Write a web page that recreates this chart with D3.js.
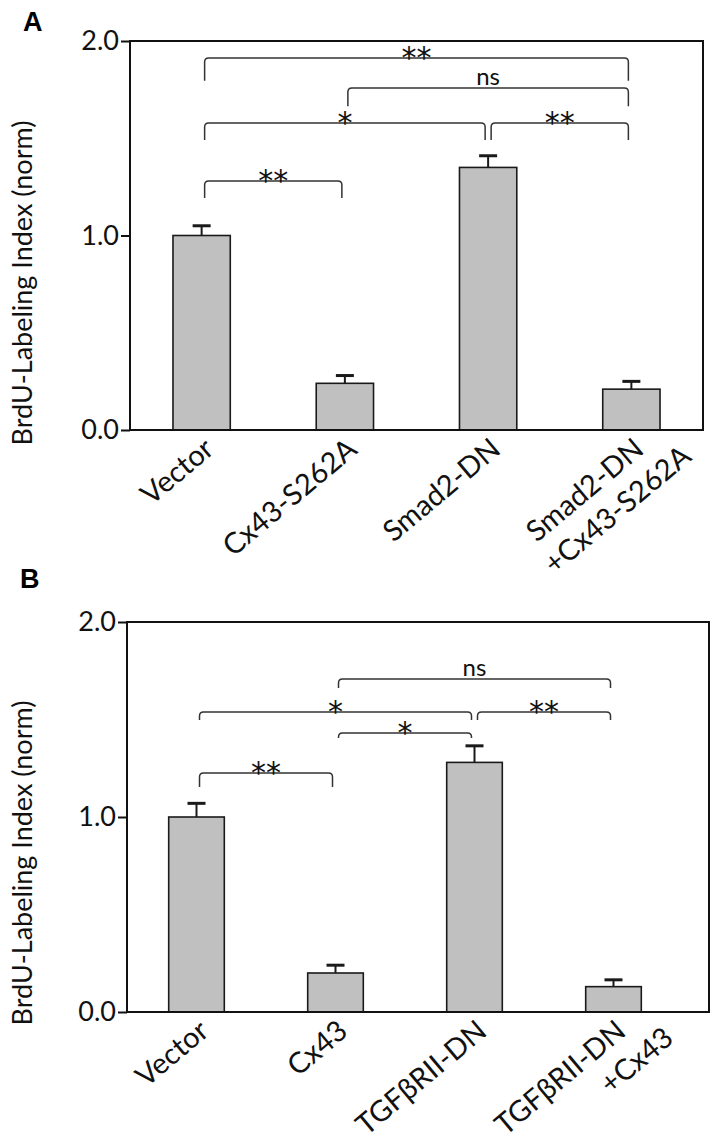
<!DOCTYPE html>
<html>
<head>
<meta charset="utf-8">
<script src="https://d3js.org/d3.v7.min.js"></script>
<style>
  body { margin: 0; background: #fff; }
  svg { display: block; }
</style>
</head>
<body>
<svg width="722" height="1146"></svg>
<script>
// panel A data
var categoriesA = ["Vector", "Cx43-S262A", "Smad2-DN", "Smad2-DN+Cx43-S262A"];
var labelsA = [["Vector"], ["Cx43-S262A"], ["Smad2-DN"], ["Smad2-DN", "+Cx43-S262A"]];
var meansA = [1.00, 0.24, 1.35, 0.21];
var errorsA = [0.05, 0.04, 0.06, 0.04];
// from, to, level (y units), leg drop (y units), text
var bracketsA = [
	[0, 3, 1.913, 0.118, "**"],
	[1, 3, 1.758, 0.093, "ns"],
	[0, 2, 1.578, 0.087, "*"],
	[2, 3, 1.578, 0.087, "**"],
	[0, 1, 1.280, 0.087, "**"]
];

// panel B data
var categoriesB = ["Vector", "Cx43", "TGFβRII-DN", "TGFβRII-DN+Cx43"];
var labelsB = [["Vector"], ["Cx43"], ["TGFβRII-DN"], ["TGFβRII-DN", "+Cx43"]];
var meansB = [1.00, 0.20, 1.28, 0.13];
var errorsB = [0.07, 0.04, 0.085, 0.035];
var bracketsB = [
	[1, 3, 1.708, 0.046, "ns"],
	[0, 2, 1.538, 0.041, "*"],
	[2, 3, 1.538, 0.041, "**"],
	[1, 2, 1.431, 0.026, "*"],
	[0, 1, 1.226, 0.072, "**"]
];

var yTicks = [0, 1, 2];
var yTitle = "BrdU-Labeling Index (norm)";

var svg = d3.select("svg");

function drawPanel(cfg, cats, labels, means, errs, brackets) {
	var g = svg.append("g");

	var x = d3.scaleBand().domain(cats)
		.range([cfg.left, cfg.bandRight])
		.paddingInner(0.6).paddingOuter(0.3);
	var y = d3.scaleLinear().domain([0, 2]).range([cfg.bottom, cfg.top]);
	var cx = function(i) { return x(cats[i]) + x.bandwidth() / 2; };

	// panel letter
	g.append("text")
		.attr("x", cfg.letterX).attr("y", cfg.letterY)
		.style("font-family", "'Liberation Sans', Arial, sans-serif")
		.style("font-weight", "bold").style("font-size", "27px")
		.text(cfg.letter);

	// y axis ticks + labels
	var ax = g.append("g")
		.attr("transform", "translate(" + cfg.left + ",0)")
		.call(d3.axisLeft(y).tickValues(yTicks).tickFormat(d3.format(".1f")).tickSize(9).tickPadding(2));
	ax.select(".domain").remove();
	ax.selectAll("line").attr("stroke", "#111").attr("stroke-width", 2);
	ax.selectAll("text")
		.style("font-family", "Lato, sans-serif").style("font-size", "27px").attr("fill", "#111");

	g.append("text")
		.attr("transform", "translate(" + cfg.titleX + "," + cfg.titleY + ") rotate(-90)")
		.attr("text-anchor", "middle")
		.style("font-family", "Lato, sans-serif").style("font-size", "27px").attr("fill", "#111")
		.text(yTitle);

	// bars
	g.selectAll("rect.bar").data(means).enter().append("rect")
		.attr("class", "bar")
		.attr("x", function(d, i) { return x(cats[i]); })
		.attr("y", function(d) { return y(d); })
		.attr("width", x.bandwidth())
		.attr("height", function(d) { return y(0) - y(d); })
		.attr("fill", "#c0c0c0").attr("stroke", "#1a1a1a").attr("stroke-width", 1.6);

	// error bars (upper only)
	var eb = g.selectAll("g.err").data(means).enter().append("g").attr("class", "err")
		.attr("stroke", "#1a1a1a");
	eb.append("line")
		.attr("x1", function(d, i) { return cx(i); }).attr("x2", function(d, i) { return cx(i); })
		.attr("y1", function(d) { return y(d); })
		.attr("y2", function(d, i) { return y(d + errs[i]); })
		.attr("stroke-width", 2);
	eb.append("line")
		.attr("x1", function(d, i) { return cx(i) - 9; }).attr("x2", function(d, i) { return cx(i) + 9; })
		.attr("y1", function(d, i) { return y(d + errs[i]); })
		.attr("y2", function(d, i) { return y(d + errs[i]); })
		.attr("stroke-width", 3);

	// frame
	g.append("rect")
		.attr("x", cfg.left).attr("y", cfg.top)
		.attr("width", cfg.right - cfg.left).attr("height", cfg.bottom - cfg.top)
		.attr("fill", "none").attr("stroke", "#111").attr("stroke-width", 2);

	// significance brackets
	var r = 4;
	brackets.forEach(function(b) {
		var x1 = cx(b[0]) + 3, x2 = cx(b[1]) - 3;
		var yb = y(b[2]), yl = y(b[2] - b[3]);
		var p = "M" + x1 + "," + yl + "L" + x1 + "," + (yb + r) +
			"Q" + x1 + "," + yb + " " + (x1 + r) + "," + yb +
			"L" + (x2 - r) + "," + yb +
			"Q" + x2 + "," + yb + " " + x2 + "," + (yb + r) +
			"L" + x2 + "," + yl;
		g.append("path").attr("d", p).attr("fill", "none")
			.attr("stroke", "#333").attr("stroke-width", 1.5);
		var isStar = b[4].indexOf("*") >= 0;
		g.append("text")
			.attr("x", (x1 + x2) / 2)
			.attr("y", isStar ? yb + 10 : yb - 3)
			.attr("text-anchor", "middle")
			.style("font-family", isStar ? "'DejaVu Sans', sans-serif" : "Lato, sans-serif")
			.style("font-size", isStar ? "30px" : "24px")
			.attr("fill", "#111")
			.text(b[4]);
	});

	// rotated category labels
	var lab = g.selectAll("g.xlab").data(labels).enter().append("g").attr("class", "xlab")
		.attr("transform", function(d, i) {
			return "translate(" + (cx(i) + 14) + "," + (cfg.bottom + 22) + ") rotate(-40)";
		});
	lab.append("text")
		.attr("text-anchor", "end")
		.style("font-family", "Lato, sans-serif").style("font-size", "29px").attr("fill", "#111")
		.selectAll("tspan").data(function(d) { return d; }).enter().append("tspan")
		.attr("x", function(d, j) { return j * 32; })
		.attr("y", function(d, j) { return j * 36; })
		.text(function(d) { return d; });
}

drawPanel({letter: "A", letterX: 23, letterY: 31, left: 130, right: 703, bandRight: 703,
	top: 41, bottom: 430, titleX: 32, titleY: 283}, categoriesA, labelsA, meansA, errorsA, bracketsA);
drawPanel({letter: "B", letterX: 20, letterY: 588, left: 127, right: 709, bandRight: 683,
	top: 622, bottom: 1012, titleX: 32, titleY: 863}, categoriesB, labelsB, meansB, errorsB, bracketsB);
</script>
</body>
</html>
